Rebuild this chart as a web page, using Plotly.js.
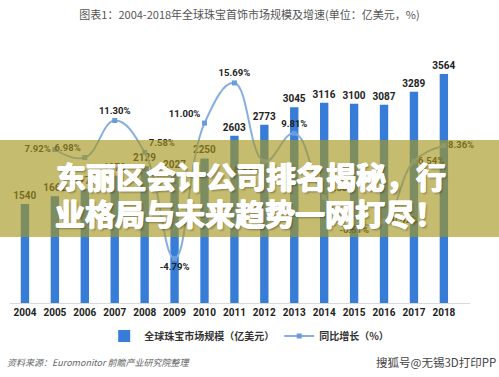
<!DOCTYPE html>
<html>
<head>
<meta charset="utf-8">
<script src="https://cdn.plot.ly/plotly-3.0.1.min.js"></script>
<style>html,body{margin:0;padding:0;background:#fff;}#chart{width:499px;height:377px;}</style>
</head>
<body>
<div id="chart"></div>
<script>
const years = ['2004','2005','2006','2007','2008','2009','2010','2011','2012','2013','2014','2015','2016','2017','2018'];
const marketSize = [1540,1662,1778,1979,2129,2027,2250,2603,2773,3045,3116,3100,3087,3289,3564];
const growthYears = ['2005','2006','2007','2008','2009','2010','2011','2012','2013','2014','2015','2016','2017','2018'];
const growthRate = [7.92,6.98,11.30,7.58,-4.79,11.00,15.69,6.53,9.81,2.33,-0.51,-0.42,6.54,8.36];
const titleText = '图表1：2004-2018年全球珠宝首饰市场规模及增速(单位：亿美元，%)';
const barName = '全球珠宝市场规模（亿美元）';
const lineName = '同比增长（%）';
const bannerLine1 = '东丽区会计公司排名揭秘，行';
const bannerLine2 = '业格局与未来趋势一网打尽！';
const sourceText = '资料来源：Euromonitor 前瞻产业研究院整理';
const stampText = '搜狐号@无锡3D打印PP';

const labelPos = ['middle left','top left','top center','top right','bottom center','top left','top center','bottom left','top center','top right','bottom center','middle right','middle right','middle right'];

const fontCJK = '"Noto Sans CJK SC", "Noto Sans", sans-serif';
const heavyShadow = '0.7px 0 0 #fff, -0.7px 0 0 #fff, 0 0.7px 0 #fff, 0 -0.5px 0 #fff, 1.5px 1.5px 2px rgba(0,0,0,0.35)';

const traces = [
  {
    type: 'bar', x: years, y: marketSize, name: barName,
    marker: {color: '#377dd7'}, width: 0.28,
    text: marketSize.map(String), textposition: 'outside', cliponaxis: false, constraintext: 'none',
    textfont: {size: 10, color: '#222', family: 'Roboto, sans-serif', weight: 'bold'},
    hoverinfo: 'skip'
  },
  {
    type: 'scatter', mode: 'lines+markers+text', x: growthYears, y: growthRate, yaxis: 'y2', name: lineName,
    line: {color: '#86afe0', width: 2, shape: 'spline', smoothing: 1.2},
    marker: {symbol: 'square', size: 5, color: '#6a9cdc'},
    text: growthRate.map(v => v.toFixed(2) + '%'), textposition: labelPos, cliponaxis: false,
    textfont: {size: 9.5, color: '#222', family: 'Roboto, sans-serif', weight: 'bold'},
    hoverinfo: 'skip'
  }
];

const layout = {
  width: 499, height: 377,
  margin: {l: 10, r: 29, t: 46, b: 74},
  paper_bgcolor: '#ffffff', plot_bgcolor: '#ffffff',
  showlegend: true,
  title: {text: titleText, x: 0.5, xref: 'container', xanchor: 'center', y: 0.96, yref: 'container', yanchor: 'middle',
          font: {size: 11, color: '#555', family: fontCJK}},
  xaxis: {type: 'category', showline: true, linecolor: '#d9d9d9', linewidth: 1, ticks: '', showgrid: false,
          tickfont: {size: 10, color: '#222', family: 'Roboto, sans-serif', weight: 'bold'}, fixedrange: true},
  yaxis: {range: [0, 4000], visible: false, showgrid: false, zeroline: false},
  yaxis2: {range: [-10, 20], overlaying: 'y', visible: false, showgrid: false, zeroline: false},
  legend: {orientation: 'h', x: 0.52, xanchor: 'center', y: -0.128, yanchor: 'middle',
           font: {size: 10, color: '#333', family: fontCJK, weight: 'bold'}, itemwidth: 30, tracegroupgap: 10},
  shapes: [
    {type: 'rect', xref: 'paper', yref: 'paper', x0: -0.03, x1: 1.07, y0: 0.257, y1: 0.634,
     fillcolor: 'rgba(166,150,32,0.64)', line: {width: 0}, layer: 'above'}
  ],
  annotations: [
    {text: bannerLine1, xref: 'paper', yref: 'paper', x: 0.523, y: 0.498, showarrow: false, xanchor: 'center', yanchor: 'middle',
     font: {size: 30, color: '#ffffff', family: fontCJK, weight: 'bold', shadow: heavyShadow}},
    {text: bannerLine2, xref: 'paper', yref: 'paper', x: 0.521, y: 0.354, showarrow: false, xanchor: 'center', yanchor: 'middle',
     font: {size: 30, color: '#ffffff', family: fontCJK, weight: 'bold', shadow: heavyShadow}},
    {text: sourceText, xref: 'paper', yref: 'paper', x: -0.011, y: -0.23, showarrow: false, xanchor: 'left', yanchor: 'middle',
     font: {size: 9, color: '#666', family: fontCJK, style: 'italic'}},
    {text: stampText, xref: 'paper', yref: 'paper', x: 1.06, y: -0.23, showarrow: false, xanchor: 'right', yanchor: 'middle',
     font: {size: 11.5, color: '#444', family: fontCJK}}
  ]
};

Plotly.newPlot('chart', traces, layout, {staticPlot: true, displayModeBar: false});
</script>
</body>
</html>
